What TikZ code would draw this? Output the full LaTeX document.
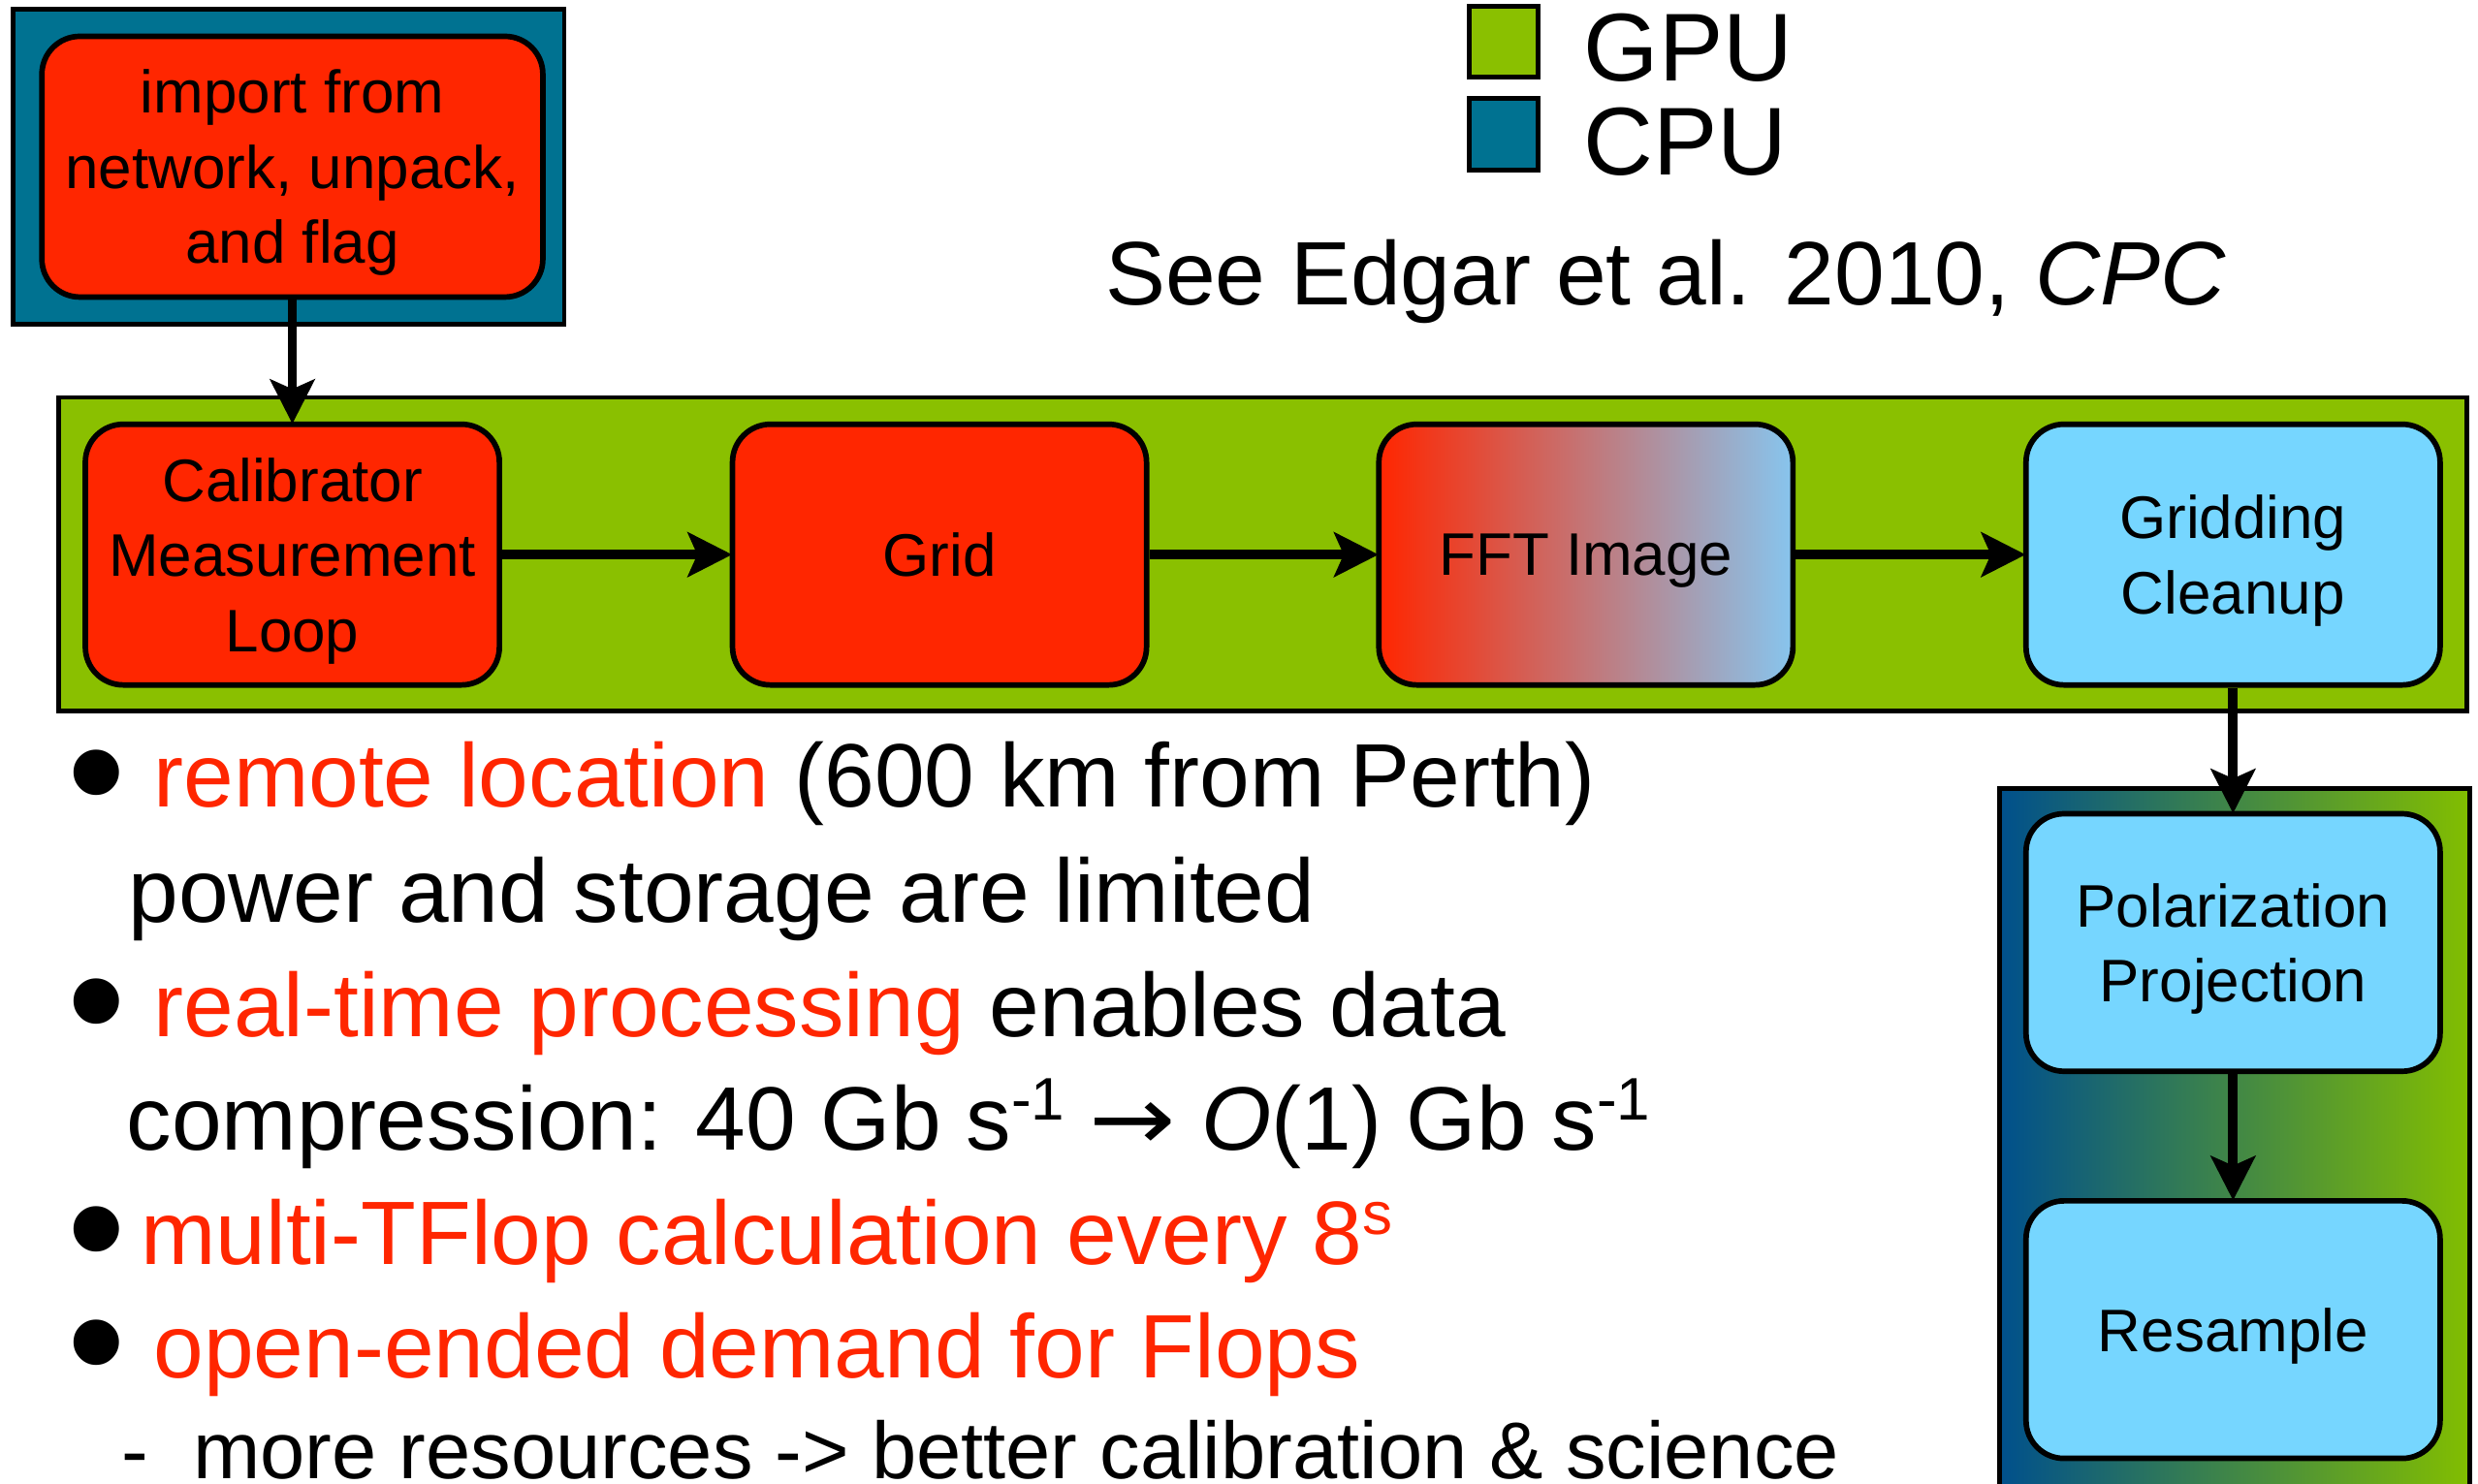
\documentclass[tikz,border=0pt]{standalone}
\usepackage{fontspec}
\setmainfont{Liberation Sans}
\newfontfamily\arrowfont{DejaVu Sans}
\usepackage{graphicx}
\usetikzlibrary{arrows.meta}

\definecolor{gpugreen}{RGB}{138,192,0}
\definecolor{cputeal}{RGB}{0,114,145}
\definecolor{taskred}{RGB}{255,38,0}
\definecolor{taskblue}{RGB}{118,214,255}
\definecolor{fftblue}{RGB}{135,197,238}
\definecolor{mixblue}{RGB}{0,80,140}
\definecolor{mixgreen}{RGB}{130,190,0}

\newcommand\taskfont{\fontsize{38}{47.5}\selectfont}
\newcommand\keyfont{\fontsize{61}{70}\selectfont}
\newcommand\notefont{\fontsize{57}{68}\selectfont}
\newcommand\subnotefont{\fontsize{51}{60}\selectfont}
\newcommand\dotfont{\fontsize{106}{106}\selectfont}
% raised small text for units and exponents
\newcommand\raisedtext[1]{\raisebox{19pt}{\fontsize{38}{38}\selectfont #1}}

\begin{document}
\begin{tikzpicture}[x=1pt,y=-1pt,
  container/.style={draw=black, line width=3pt, rectangle, inner sep=0pt},
  task/.style={draw=black, line width=3.5pt, rounded corners=24pt,
    minimum width=262pt, minimum height=165pt, inner sep=0pt,
    align=center, font=\taskfont, text depth=0pt},
  flow/.style={line width=6pt, shorten >=-1.5pt,
    -{Stealth[length=28pt,width=28pt,inset=6pt]}},
  keybox/.style={draw=black, line width=3pt, minimum width=44pt,
    minimum height=45pt, inner sep=0pt},
  textline/.style={anchor=base west, inner sep=0pt, font=\notefont},
  subline/.style={anchor=base west, inner sep=0pt, font=\subnotefont,
    text depth=0pt},
  dotmark/.style={anchor=base west, inner sep=0pt, font=\dotfont,
    text height=50pt, text depth=0pt},
]
\path[use as bounding box] (0,0) rectangle (1568,939);
\clip (0,0) rectangle (1568,939);

% host containers
\node[container, fill=cputeal, minimum width=348.5pt, minimum height=199pt]
  (cpuhost) at (182.75,105.5) {};
\node[container, fill=gpugreen, minimum width=1524pt, minimum height=198.5pt]
  (gpuhost) at (799,350.75) {};
\node[container, left color=mixblue, right color=mixgreen,
  minimum width=297pt, minimum height=470pt, anchor=north west]
  (mixhost) at (1264,497.6) {};

% processing stages
\node[task, fill=taskred, minimum width=317pt] (ingest) at (185,105.5)
  {import from\\network, unpack,\\and flag};
\node[task, fill=taskred] (cal) at (185,351) {Calibrator\\Measurement\\Loop};
\node[task, fill=taskred] (grid) at (594.5,351) {Grid};
\node[task, left color=taskred, right color=fftblue] (fft) at (1003.5,351) {FFT Image};
\node[task, fill=taskblue] (clean) at (1413,351) {Gridding\\Cleanup};
\node[task, fill=taskblue, minimum height=163pt] (polar) at (1413,596.5)
  {Polarization\\Projection};
\node[task, fill=taskblue, minimum height=163pt] (resamp) at (1413,841.5) {Resample};

% data flow
\draw[flow] (ingest) -- (cal);
\draw[flow] (cal) -- (grid);
\draw[flow] (grid) -- (fft);
\draw[flow] (fft) -- (clean);
\draw[flow] (clean) -- (polar);
\draw[flow] (polar) -- (resamp);

% legend
\node[keybox, fill=gpugreen] (gpukey) at (951.5,26.5) {};
\node[keybox, fill=cputeal] (cpukey) at (951.5,85) {};
\node[anchor=base west, inner sep=0pt, font=\keyfont] (gpulabel) at (1002,51) {GPU};
\node[anchor=base west, inner sep=0pt, font=\keyfont] (cpulabel) at (1002,110.5) {CPU};
\node[anchor=base, inner sep=0pt, font=\notefont] (cite) at (1054,193)
  {See Edgar et al. 2010, \textit{CPC}};

% notes
\node[dotmark] (d1) at (42.5,524) {•};
\node[textline] (l1) at (97,511)
  {\textcolor{taskred}{remote location} (600 km from Perth)};
\node[textline] (l2) at (81,584) {power and storage are limited};
\node[dotmark] (d3) at (42.5,669) {•};
\node[textline] (l3) at (97,656)
  {\textcolor{taskred}{real-time processing} enables data};
\node[textline] (l4) at (80,728)
  {compression: 40 Gb s\raisedtext{-1} {\arrowfont\scalebox{1.15}[1]{→}} \textit{O}(1) Gb s\raisedtext{-1}};
\node[dotmark] (d5) at (42.5,813) {•};
\node[textline, text=taskred] (l5) at (89,800)
  {multi-TFlop calculation every 8\raisedtext{s}};
\node[dotmark] (d6) at (42.5,885) {•};
\node[textline, text=taskred] (l6) at (97,872) {open-ended demand for Flops};
\node[subline] (d7) at (77,936) {-};
\node[subline] (l7) at (122,936) {more resources -> better calibration \& science};
\end{tikzpicture}
\end{document}
